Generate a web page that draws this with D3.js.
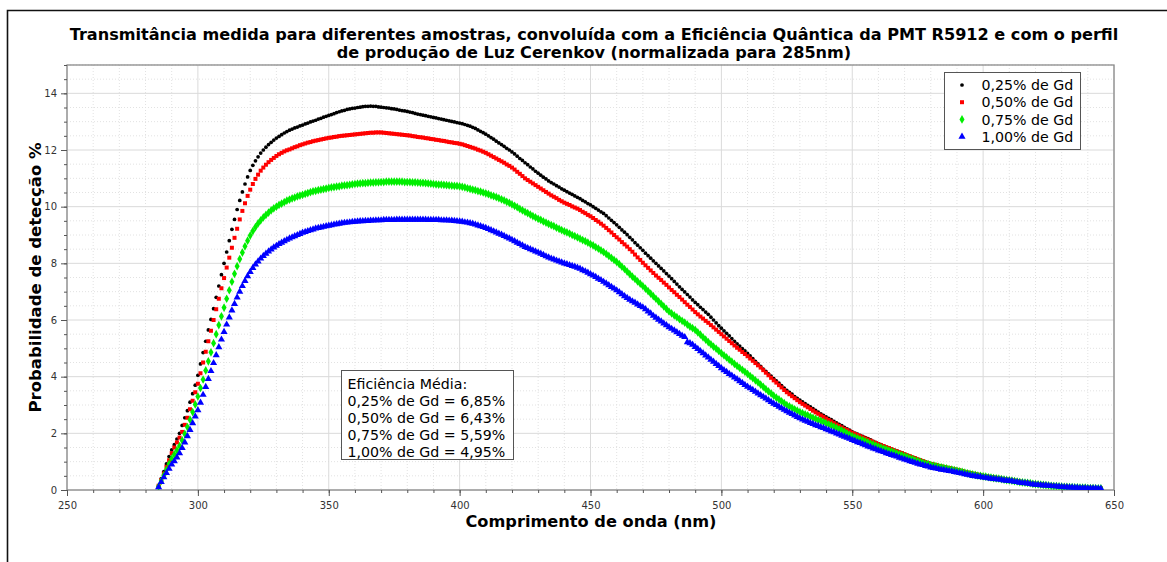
<!DOCTYPE html>
<html>
<head>
<meta charset="utf-8">
<script src="https://cdn.jsdelivr.net/npm/d3@7/dist/d3.min.js"></script>
<style>
  html, body { margin: 0; padding: 0; background: #fff; }
  svg { display: block; font-family: "DejaVu Sans", sans-serif; }
</style>
</head>
<body>
<svg id="chart" width="1167" height="562"></svg>
<script>
// Wavelength sampling grid (nm), one sample per nanometre
const wavelengths = d3.range(285, 646, 1);

// Detection probability (%) for each Gd concentration, 285–645 nm
const gd025 = [
  0.15, 0.40, 0.65, 0.92, 1.18, 1.42, 1.60, 1.80, 2.00, 2.28,
  2.55, 2.80, 3.10, 3.40, 3.70, 4.05, 4.45, 4.85, 5.25, 5.65,
  6.02, 6.40, 6.80, 7.20, 7.60, 8.00, 8.40, 8.80, 9.20, 9.55,
  9.90, 10.22, 10.52, 10.80, 11.05, 11.28, 11.46, 11.62, 11.76, 11.89,
  12.00, 12.10, 12.19, 12.27, 12.35, 12.42, 12.48, 12.54, 12.60, 12.65,
  12.70, 12.74, 12.78, 12.81, 12.85, 12.88, 12.92, 12.95, 12.99, 13.02,
  13.05, 13.09, 13.12, 13.16, 13.19, 13.22, 13.25, 13.28, 13.32, 13.35,
  13.38, 13.40, 13.43, 13.45, 13.47, 13.48, 13.50, 13.51, 13.53, 13.54,
  13.54, 13.55, 13.54, 13.54, 13.52, 13.51, 13.50, 13.49, 13.48, 13.46,
  13.45, 13.43, 13.41, 13.39, 13.38, 13.36, 13.34, 13.32, 13.29, 13.27,
  13.25, 13.23, 13.21, 13.19, 13.17, 13.15, 13.13, 13.11, 13.09, 13.07,
  13.05, 13.03, 13.01, 12.99, 12.97, 12.95, 12.93, 12.90, 12.87, 12.84,
  12.80, 12.76, 12.71, 12.66, 12.61, 12.56, 12.50, 12.44, 12.38, 12.31,
  12.25, 12.19, 12.13, 12.06, 12.00, 11.93, 11.86, 11.78, 11.70, 11.63,
  11.55, 11.48, 11.40, 11.33, 11.25, 11.18, 11.11, 11.04, 10.98, 10.91,
  10.85, 10.80, 10.74, 10.69, 10.63, 10.58, 10.53, 10.48, 10.43, 10.38,
  10.33, 10.28, 10.22, 10.17, 10.11, 10.06, 10.00, 9.94, 9.88, 9.82,
  9.76, 9.68, 9.60, 9.52, 9.44, 9.36, 9.27, 9.18, 9.10, 9.01,
  8.92, 8.83, 8.73, 8.64, 8.55, 8.46, 8.36, 8.27, 8.18, 8.09,
  8.00, 7.91, 7.82, 7.73, 7.64, 7.55, 7.46, 7.36, 7.27, 7.17,
  7.08, 6.99, 6.90, 6.81, 6.71, 6.62, 6.54, 6.45, 6.37, 6.28,
  6.20, 6.10, 6.00, 5.90, 5.80, 5.71, 5.62, 5.53, 5.44, 5.34,
  5.25, 5.16, 5.08, 4.99, 4.91, 4.82, 4.73, 4.64, 4.54, 4.45,
  4.36, 4.27, 4.19, 4.10, 4.02, 3.93, 3.85, 3.77, 3.68, 3.60,
  3.52, 3.45, 3.38, 3.30, 3.23, 3.17, 3.11, 3.05, 2.99, 2.93,
  2.87, 2.81, 2.75, 2.69, 2.63, 2.58, 2.53, 2.48, 2.42, 2.37,
  2.32, 2.27, 2.21, 2.16, 2.11, 2.05, 2.01, 1.97, 1.93, 1.89,
  1.85, 1.81, 1.77, 1.72, 1.68, 1.64, 1.60, 1.56, 1.52, 1.49,
  1.45, 1.41, 1.38, 1.34, 1.31, 1.27, 1.23, 1.20, 1.16, 1.13,
  1.09, 1.06, 1.03, 0.99, 0.96, 0.93, 0.91, 0.89, 0.86, 0.84,
  0.82, 0.80, 0.78, 0.76, 0.74, 0.72, 0.70, 0.67, 0.65, 0.62,
  0.60, 0.58, 0.56, 0.54, 0.52, 0.50, 0.49, 0.47, 0.46, 0.44,
  0.43, 0.42, 0.40, 0.39, 0.37, 0.36, 0.34, 0.33, 0.31, 0.30,
  0.28, 0.27, 0.26, 0.25, 0.23, 0.22, 0.21, 0.20, 0.19, 0.18,
  0.17, 0.16, 0.15, 0.14, 0.13, 0.12, 0.12, 0.11, 0.11, 0.10,
  0.10, 0.09, 0.09, 0.09, 0.08, 0.08, 0.08, 0.07, 0.07, 0.07,
  0.06
];

const gd050 = [
  0.15, 0.35, 0.58, 0.82, 1.05, 1.30, 1.50, 1.68, 1.85, 2.05,
  2.30, 2.55, 2.85, 3.15, 3.45, 3.75, 4.12, 4.50, 4.88, 5.25,
  5.62, 6.00, 6.38, 6.75, 7.12, 7.48, 7.85, 8.20, 8.55, 8.90,
  9.22, 9.55, 9.85, 10.12, 10.38, 10.60, 10.80, 10.98, 11.13, 11.27,
  11.38, 11.48, 11.57, 11.65, 11.72, 11.79, 11.85, 11.90, 11.95, 11.99,
  12.02, 12.06, 12.10, 12.13, 12.17, 12.20, 12.23, 12.26, 12.28, 12.31,
  12.33, 12.35, 12.37, 12.39, 12.41, 12.43, 12.44, 12.46, 12.47, 12.49,
  12.50, 12.51, 12.52, 12.53, 12.54, 12.55, 12.56, 12.57, 12.58, 12.59,
  12.60, 12.61, 12.61, 12.62, 12.62, 12.62, 12.61, 12.60, 12.59, 12.58,
  12.57, 12.56, 12.55, 12.54, 12.53, 12.52, 12.51, 12.49, 12.48, 12.46,
  12.45, 12.44, 12.42, 12.41, 12.39, 12.38, 12.36, 12.35, 12.33, 12.32,
  12.30, 12.28, 12.27, 12.25, 12.24, 12.22, 12.20, 12.17, 12.14, 12.11,
  12.08, 12.05, 12.01, 11.98, 11.94, 11.90, 11.85, 11.80, 11.75, 11.70,
  11.65, 11.60, 11.55, 11.49, 11.44, 11.38, 11.31, 11.23, 11.16, 11.08,
  11.00, 10.94, 10.88, 10.82, 10.76, 10.70, 10.64, 10.58, 10.52, 10.46,
  10.40, 10.35, 10.30, 10.24, 10.19, 10.14, 10.10, 10.06, 10.01, 9.97,
  9.93, 9.88, 9.82, 9.77, 9.71, 9.66, 9.60, 9.53, 9.47, 9.40,
  9.33, 9.25, 9.17, 9.09, 9.00, 8.92, 8.84, 8.75, 8.67, 8.59,
  8.50, 8.41, 8.31, 8.21, 8.12, 8.02, 7.93, 7.84, 7.75, 7.66,
  7.57, 7.49, 7.41, 7.32, 7.24, 7.15, 7.06, 6.98, 6.89, 6.81,
  6.72, 6.63, 6.54, 6.46, 6.37, 6.28, 6.20, 6.12, 6.05, 5.97,
  5.90, 5.82, 5.74, 5.66, 5.58, 5.50, 5.42, 5.34, 5.26, 5.18,
  5.10, 5.02, 4.95, 4.87, 4.80, 4.72, 4.64, 4.56, 4.48, 4.40,
  4.32, 4.23, 4.14, 4.05, 3.96, 3.87, 3.79, 3.70, 3.62, 3.53,
  3.45, 3.38, 3.31, 3.24, 3.17, 3.10, 3.04, 2.98, 2.92, 2.86,
  2.80, 2.74, 2.69, 2.63, 2.58, 2.52, 2.47, 2.42, 2.36, 2.31,
  2.26, 2.21, 2.16, 2.12, 2.07, 2.02, 1.98, 1.94, 1.90, 1.86,
  1.82, 1.78, 1.74, 1.70, 1.66, 1.62, 1.58, 1.55, 1.51, 1.48,
  1.44, 1.40, 1.37, 1.33, 1.30, 1.26, 1.22, 1.19, 1.15, 1.12,
  1.08, 1.05, 1.02, 0.98, 0.95, 0.92, 0.90, 0.88, 0.85, 0.83,
  0.81, 0.79, 0.77, 0.75, 0.73, 0.71, 0.69, 0.67, 0.64, 0.62,
  0.60, 0.58, 0.56, 0.54, 0.52, 0.50, 0.49, 0.47, 0.46, 0.44,
  0.43, 0.41, 0.40, 0.38, 0.37, 0.36, 0.34, 0.33, 0.31, 0.30,
  0.28, 0.27, 0.26, 0.25, 0.23, 0.22, 0.21, 0.20, 0.19, 0.18,
  0.17, 0.16, 0.15, 0.14, 0.13, 0.12, 0.12, 0.11, 0.11, 0.10,
  0.10, 0.09, 0.09, 0.09, 0.08, 0.08, 0.08, 0.07, 0.07, 0.07,
  0.06
];

const gd075 = [
  0.12, 0.32, 0.52, 0.72, 0.92, 1.10, 1.25, 1.40, 1.55, 1.75,
  1.98, 2.22, 2.48, 2.75, 3.02, 3.30, 3.60, 3.90, 4.22, 4.54,
  4.86, 5.18, 5.50, 5.82, 6.13, 6.44, 6.75, 7.05, 7.35, 7.63,
  7.90, 8.15, 8.38, 8.60, 8.80, 8.98, 9.14, 9.28, 9.41, 9.52,
  9.62, 9.71, 9.79, 9.87, 9.94, 10.00, 10.06, 10.11, 10.16, 10.21,
  10.25, 10.29, 10.32, 10.36, 10.39, 10.42, 10.45, 10.48, 10.51, 10.54,
  10.56, 10.58, 10.60, 10.62, 10.64, 10.66, 10.68, 10.69, 10.71, 10.72,
  10.74, 10.75, 10.76, 10.77, 10.79, 10.80, 10.81, 10.82, 10.83, 10.83,
  10.84, 10.85, 10.85, 10.86, 10.86, 10.87, 10.87, 10.88, 10.88, 10.88,
  10.88, 10.88, 10.88, 10.88, 10.87, 10.87, 10.87, 10.86, 10.86, 10.85,
  10.84, 10.84, 10.83, 10.82, 10.81, 10.80, 10.79, 10.78, 10.78, 10.77,
  10.76, 10.75, 10.74, 10.73, 10.73, 10.72, 10.70, 10.68, 10.65, 10.63,
  10.60, 10.58, 10.55, 10.53, 10.50, 10.47, 10.44, 10.40, 10.37, 10.34,
  10.30, 10.26, 10.22, 10.17, 10.13, 10.08, 10.03, 9.98, 9.92, 9.87,
  9.82, 9.77, 9.72, 9.67, 9.62, 9.57, 9.53, 9.48, 9.44, 9.39,
  9.35, 9.31, 9.26, 9.22, 9.17, 9.13, 9.09, 9.05, 9.00, 8.96,
  8.92, 8.87, 8.82, 8.78, 8.73, 8.68, 8.63, 8.57, 8.52, 8.46,
  8.40, 8.33, 8.26, 8.19, 8.12, 8.05, 7.97, 7.88, 7.80, 7.71,
  7.62, 7.53, 7.45, 7.36, 7.28, 7.20, 7.11, 7.02, 6.93, 6.84,
  6.75, 6.66, 6.57, 6.48, 6.39, 6.30, 6.23, 6.16, 6.10, 6.03,
  5.97, 5.91, 5.84, 5.77, 5.71, 5.65, 5.56, 5.48, 5.39, 5.31,
  5.22, 5.14, 5.06, 4.99, 4.91, 4.83, 4.75, 4.68, 4.60, 4.53,
  4.45, 4.38, 4.31, 4.24, 4.17, 4.10, 4.02, 3.95, 3.87, 3.80,
  3.72, 3.64, 3.56, 3.48, 3.41, 3.33, 3.26, 3.20, 3.13, 3.07,
  3.00, 2.95, 2.90, 2.85, 2.80, 2.75, 2.71, 2.67, 2.63, 2.59,
  2.55, 2.51, 2.47, 2.44, 2.40, 2.36, 2.32, 2.28, 2.23, 2.19,
  2.14, 2.10, 2.05, 2.00, 1.95, 1.90, 1.86, 1.83, 1.79, 1.76,
  1.72, 1.68, 1.64, 1.61, 1.57, 1.53, 1.50, 1.46, 1.43, 1.39,
  1.36, 1.33, 1.29, 1.26, 1.22, 1.19, 1.16, 1.12, 1.09, 1.05,
  1.02, 0.99, 0.96, 0.93, 0.91, 0.88, 0.86, 0.84, 0.82, 0.80,
  0.78, 0.76, 0.74, 0.72, 0.70, 0.68, 0.66, 0.64, 0.61, 0.59,
  0.57, 0.55, 0.53, 0.51, 0.50, 0.48, 0.47, 0.45, 0.44, 0.42,
  0.41, 0.40, 0.38, 0.37, 0.35, 0.34, 0.33, 0.31, 0.30, 0.28,
  0.27, 0.26, 0.25, 0.24, 0.22, 0.21, 0.20, 0.19, 0.18, 0.17,
  0.16, 0.15, 0.14, 0.14, 0.13, 0.12, 0.11, 0.11, 0.10, 0.10,
  0.09, 0.09, 0.08, 0.08, 0.08, 0.07, 0.07, 0.07, 0.06, 0.06,
  0.06
];

const gd100 = [
  0.10, 0.28, 0.45, 0.60, 0.75, 0.90, 1.02, 1.15, 1.30, 1.48,
  1.68, 1.90, 2.12, 2.36, 2.60, 2.82, 3.08, 3.36, 3.64, 3.92,
  4.20, 4.48, 4.76, 5.04, 5.31, 5.58, 5.84, 6.09, 6.34, 6.57,
  6.80, 7.00, 7.20, 7.38, 7.55, 7.70, 7.84, 7.96, 8.07, 8.17,
  8.26, 8.34, 8.42, 8.49, 8.56, 8.62, 8.68, 8.73, 8.78, 8.83,
  8.88, 8.92, 8.96, 9.00, 9.04, 9.08, 9.11, 9.14, 9.17, 9.20,
  9.23, 9.25, 9.27, 9.29, 9.31, 9.33, 9.35, 9.37, 9.38, 9.40,
  9.42, 9.43, 9.44, 9.45, 9.46, 9.47, 9.48, 9.49, 9.49, 9.50,
  9.50, 9.51, 9.51, 9.52, 9.52, 9.52, 9.53, 9.53, 9.53, 9.53,
  9.53, 9.54, 9.54, 9.54, 9.54, 9.54, 9.54, 9.54, 9.54, 9.54,
  9.54, 9.54, 9.54, 9.53, 9.53, 9.53, 9.53, 9.53, 9.52, 9.52,
  9.52, 9.51, 9.51, 9.50, 9.49, 9.48, 9.47, 9.45, 9.44, 9.42,
  9.40, 9.37, 9.34, 9.31, 9.28, 9.25, 9.21, 9.17, 9.13, 9.09,
  9.05, 9.01, 8.97, 8.92, 8.88, 8.83, 8.78, 8.73, 8.68, 8.63,
  8.58, 8.54, 8.50, 8.46, 8.42, 8.38, 8.34, 8.30, 8.25, 8.21,
  8.17, 8.14, 8.10, 8.07, 8.03, 8.00, 7.97, 7.94, 7.91, 7.88,
  7.85, 7.81, 7.76, 7.72, 7.67, 7.62, 7.57, 7.52, 7.46, 7.41,
  7.35, 7.29, 7.23, 7.17, 7.11, 7.05, 6.98, 6.91, 6.84, 6.78,
  6.72, 6.66, 6.61, 6.55, 6.50, 6.45, 6.38, 6.30, 6.23, 6.15,
  6.08, 6.01, 5.95, 5.88, 5.82, 5.75, 5.69, 5.63, 5.57, 5.51,
  5.45, 5.40, 5.22, 5.18, 5.13, 5.05, 4.98, 4.90, 4.83, 4.75,
  4.68, 4.60, 4.53, 4.45, 4.38, 4.30, 4.23, 4.17, 4.10, 4.04,
  3.97, 3.91, 3.84, 3.78, 3.71, 3.65, 3.59, 3.53, 3.47, 3.41,
  3.35, 3.29, 3.23, 3.17, 3.11, 3.05, 3.00, 2.94, 2.89, 2.83,
  2.78, 2.73, 2.68, 2.63, 2.58, 2.53, 2.49, 2.45, 2.41, 2.37,
  2.33, 2.29, 2.26, 2.22, 2.19, 2.15, 2.11, 2.07, 2.04, 2.00,
  1.96, 1.92, 1.88, 1.85, 1.81, 1.77, 1.73, 1.69, 1.66, 1.62,
  1.58, 1.54, 1.51, 1.47, 1.44, 1.40, 1.37, 1.34, 1.30, 1.27,
  1.24, 1.21, 1.18, 1.14, 1.11, 1.08, 1.05, 1.02, 0.99, 0.96,
  0.93, 0.90, 0.88, 0.85, 0.83, 0.80, 0.78, 0.76, 0.74, 0.72,
  0.71, 0.69, 0.67, 0.66, 0.64, 0.62, 0.60, 0.58, 0.56, 0.54,
  0.52, 0.50, 0.49, 0.47, 0.46, 0.44, 0.43, 0.42, 0.40, 0.39,
  0.38, 0.37, 0.36, 0.34, 0.33, 0.32, 0.31, 0.29, 0.28, 0.26,
  0.25, 0.24, 0.23, 0.21, 0.20, 0.19, 0.18, 0.17, 0.16, 0.16,
  0.15, 0.14, 0.13, 0.13, 0.12, 0.11, 0.10, 0.10, 0.09, 0.09,
  0.08, 0.08, 0.07, 0.07, 0.07, 0.06, 0.06, 0.06, 0.06, 0.05,
  0.05
];

const seriesLabels = ["0,25% de Gd", "0,50% de Gd", "0,75% de Gd", "1,00% de Gd"];
const seriesColors = ["#000000", "#ff0000", "#00ee00", "#0000ff"];
const efficiencyTitle = "Eficiência Média:";
const efficiencyValues = ["6,85%", "6,43%", "5,59%", "4,95%"];

const xMajorTicks = [250, 300, 350, 400, 450, 500, 550, 600, 650];
const xMinorTicks = d3.range(250, 651, 10);
const yMajorTicks = [0, 2, 4, 6, 8, 10, 12, 14];
const yMinorTicks = d3.range(0, 15.01, 0.5);

const titleLines = [
  "Transmitância medida para diferentes amostras, convoluída com a Eficiência Quântica da PMT R5912 e com o perfil",
  "de produção de Luz Cerenkov (normalizada para 285nm)"
];
const xTitle = "Comprimento de onda (nm)";
const yTitle = "Probabilidade de detecção %";

// ---- layout ----
const svg = d3.select("#chart");
const plot = { left: 67, right: 1114, top: 65, bottom: 490 };
const x = d3.scaleLinear().domain([250, 650]).range([plot.left, plot.right]);
const y = d3.scaleLinear().domain([0, 15]).range([plot.bottom, plot.top]);

// outer frame (top and left edges)
svg.append("path")
  .attr("d", `M7.5,562 L7.5,10.5 L1167,10.5`)
  .attr("fill", "none").attr("stroke", "#111").attr("stroke-width", 1.6);

// title
svg.append("g").selectAll("text").data(titleLines).join("text")
  .attr("x", 594).attr("y", (d, i) => 40 + i * 18)
  .attr("text-anchor", "middle")
  .attr("font-size", 16.1).attr("font-weight", "bold").attr("fill", "#000")
  .text(d => d);

// grid
const grid = svg.append("g");
grid.selectAll("line.xminor").data(xMinorTicks.filter(v => !xMajorTicks.includes(v))).join("line")
  .attr("x1", d => x(d)).attr("x2", d => x(d)).attr("y1", plot.top).attr("y2", plot.bottom)
  .attr("stroke", "#e2e2e2").attr("stroke-dasharray", "1,2");
grid.selectAll("line.yminor").data(yMinorTicks.filter(v => v % 2 !== 0)).join("line")
  .attr("x1", plot.left).attr("x2", plot.right).attr("y1", d => y(d)).attr("y2", d => y(d))
  .attr("stroke", "#e2e2e2").attr("stroke-dasharray", "1,2");
grid.selectAll("line.xmajor").data(xMajorTicks).join("line")
  .attr("x1", d => x(d)).attr("x2", d => x(d)).attr("y1", plot.top).attr("y2", plot.bottom)
  .attr("stroke", "#dadada");
grid.selectAll("line.ymajor").data(yMajorTicks).join("line")
  .attr("x1", plot.left).attr("x2", plot.right).attr("y1", d => y(d)).attr("y2", d => y(d))
  .attr("stroke", "#dadada");

// plot frame
svg.append("rect")
  .attr("x", plot.left).attr("y", plot.top)
  .attr("width", plot.right - plot.left).attr("height", plot.bottom - plot.top)
  .attr("fill", "none").attr("stroke", "#8a8a8a").attr("stroke-width", 1.3);

// axes
function styleAxis(g) {
  g.select(".domain").remove();
  g.selectAll(".tick line").attr("stroke", "#555");
  g.selectAll(".tick text").attr("fill", "#333").attr("font-size", 10)
    .attr("font-family", "DejaVu Sans, sans-serif");
}
svg.append("g").attr("transform", `translate(0,${plot.bottom})`)
  .call(d3.axisBottom(x).tickValues(xMinorTicks).tickSize(3).tickFormat(""))
  .call(styleAxis);
svg.append("g").attr("transform", `translate(0,${plot.bottom})`)
  .call(d3.axisBottom(x).tickValues(xMajorTicks).tickSize(6).tickPadding(6).tickFormat(d3.format("d")))
  .call(styleAxis);
svg.append("g").attr("transform", `translate(${plot.left},0)`)
  .call(d3.axisLeft(y).tickValues(yMinorTicks).tickSize(3).tickFormat(""))
  .call(styleAxis);
svg.append("g").attr("transform", `translate(${plot.left},0)`)
  .call(d3.axisLeft(y).tickValues(yMajorTicks).tickSize(6).tickPadding(4).tickFormat(d3.format("d")))
  .call(styleAxis);

// axis titles
svg.append("text")
  .attr("x", 591).attr("y", 527).attr("text-anchor", "middle")
  .attr("font-size", 16.2).attr("font-weight", "bold").text(xTitle);
svg.append("text")
  .attr("transform", `translate(41,${(plot.top + plot.bottom) / 2}) rotate(-90)`)
  .attr("text-anchor", "middle")
  .attr("font-size", 16.5).attr("font-weight", "bold").text(yTitle);

// series markers
const seriesValues = [gd025, gd050, gd075, gd100];
const symbols = [
  d3.symbol().type(d3.symbolCircle).size(11),
  d3.symbol().type(d3.symbolSquare).size(16),
  d3.symbol().type(d3.symbolDiamond).size(22),
  d3.symbol().type(d3.symbolTriangle).size(22)
];
svg.append("clipPath").attr("id", "plotClip").append("rect")
  .attr("x", plot.left).attr("y", plot.top)
  .attr("width", plot.right - plot.left).attr("height", plot.bottom - plot.top);

const marks = svg.append("g").attr("clip-path", "url(#plotClip)");
seriesValues.forEach((vals, s) => {
  const pts = wavelengths.map((w, i) => [w, vals[i]]);
  marks.append("g").selectAll("path").data(pts).join("path")
    .attr("transform", d => `translate(${x(d[0])},${y(d[1])})`)
    .attr("d", symbols[s]())
    .attr("fill", seriesColors[s]);
});

// legend
const legend = svg.append("g");
legend.append("rect")
  .attr("x", 944.5).attr("y", 72.5).attr("width", 136).attr("height", 77)
  .attr("fill", "#fff").attr("stroke", "#555");
seriesLabels.forEach((lab, i) => {
  const cy = 85 + i * 17.2;
  legend.append("path")
    .attr("transform", `translate(962,${cy})`)
    .attr("d", symbols[i]())
    .attr("fill", seriesColors[i]);
  legend.append("text")
    .attr("x", 981.5).attr("y", cy + 5.2)
    .attr("font-size", 14.2).attr("fill", "#000").text(lab);
});

// mean efficiency box
const eff = svg.append("g");
eff.append("rect")
  .attr("x", 341.5).attr("y", 370.5).attr("width", 172).attr("height", 89)
  .attr("fill", "#fff").attr("stroke", "#555");
const effLines = [efficiencyTitle].concat(seriesLabels.map((lab, i) => `${lab} = ${efficiencyValues[i]}`));
eff.selectAll("text").data(effLines).join("text")
  .attr("x", 347.5).attr("y", (d, i) => 388.5 + i * 17.2)
  .attr("font-size", 14.2).attr("fill", "#000").text(d => d);
</script>
</body>
</html>
